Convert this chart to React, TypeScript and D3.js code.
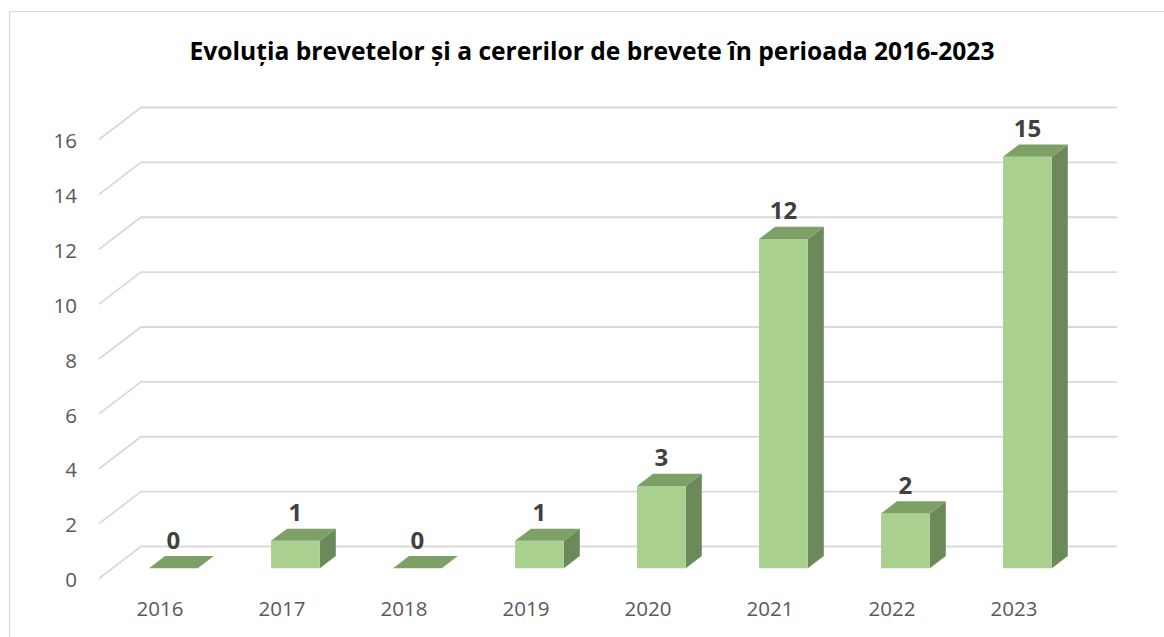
import React from "react";
import * as d3 from "d3";

const years = ["2016", "2017", "2018", "2019", "2020", "2021", "2022", "2023"];
const values = [0, 1, 0, 1, 3, 12, 2, 15];
const yTicks = [0, 2, 4, 6, 8, 10, 12, 14, 16];
const title = "Evoluția brevetelor și a cererilor de brevete în perioada 2016-2023";

const W = 1164;
const H = 637;
// depth offset (front plane -> back wall)
const DX = 42;
const DY = -32;
const FRONT_F = 0.32;
const BACK_F = 0.7;

export default function App() {
  const x = d3.scaleBand<string>().domain(years).range([99, 1075]).paddingInner(0.6).paddingOuter(0.3);
  const yBack = d3.scaleLinear().domain([0, 16]).range([546.5, 107.5]);
  const yFront = (v: number) => yBack(v) - DY;
  const bw = x.bandwidth();

  const fontAxis = "'Open Sans', 'Liberation Sans', sans-serif";

  return (
    <svg width={W} height={H} style={{ position: "absolute", left: 0, top: 0, background: "#fff" }}>
      <rect x={9.5} y={11.5} width={1200} height={700} fill="#fff" stroke="#D9D9D9" strokeWidth={1.2} />
      <text
        x={592}
        y={60}
        textAnchor="middle"
        fontFamily={fontAxis}
        fontWeight="bold"
        fontSize={25}
        fill="#000"
        textLength={805}
        lengthAdjust="spacingAndGlyphs"
      >
        {title}
      </text>
      {/* gridlines */}
      {yTicks.map((t) => {
        const x0 = 99;
        const y0 = yFront(t);
        const x1 = 99 + DX;
        const y1 = yBack(t);
        return (
          <polyline
            key={"g" + t}
            points={`${x0},${y0} ${x1},${y1} ${1075 + DX},${y1}`}
            fill="none"
            stroke="#D9D9D9"
            strokeWidth={1.8}
          />
        );
      })}
      {/* y labels */}
      {yTicks.map((t) => (
        <text
          key={"yl" + t}
          x={77}
          y={yFront(t) + 1.5}
          dy="0.35em"
          textAnchor="end"
          fontFamily={fontAxis}
          fontSize={20.5}
          fill="#595959"
        >
          {t}
        </text>
      ))}
      {/* x labels */}
      {years.map((c) => (
        <text
          key={"xl" + c}
          x={(x(c) as number) + bw / 2}
          y={616}
          textAnchor="middle"
          fontFamily={fontAxis}
          fontSize={20.5}
          fill="#595959"
        >
          {c}
        </text>
      ))}
      {/* bars */}
      {years.map((c, i) => {
        const v = values[i];
        const fx = (x(c) as number) + FRONT_F * DX;
        const fyOff = FRONT_F * DY;
        const bxOff = (BACK_F - FRONT_F) * DX;
        const byOff = (BACK_F - FRONT_F) * DY;
        const yb = yFront(0) + fyOff;
        const yt = yFront(v) + fyOff;
        const front = `M${fx},${yt}L${fx + bw},${yt}L${fx + bw},${yb}L${fx},${yb}Z`;
        const top = `M${fx},${yt}L${fx + bxOff},${yt + byOff}L${fx + bw + bxOff},${yt + byOff}L${fx + bw},${yt}Z`;
        const side = `M${fx + bw},${yt}L${fx + bw + bxOff},${yt + byOff}L${fx + bw + bxOff},${yb + byOff}L${fx + bw},${yb}Z`;
        return (
          <g key={"b" + c}>
            {v > 0 && <path d={side} fill="#6C8A59" />}
            {v > 0 && <path d={front} fill="#A9D08E" />}
            <path d={top} fill="#7DA067" />
            <text
              x={fx + bw / 2}
              y={yt + byOff - 7.5}
              textAnchor="middle"
              fontFamily={fontAxis}
              fontWeight="bold"
              fontSize={24}
              fill="#404040"
            >
              {v}
            </text>
          </g>
        );
      })}
    </svg>
  );
}
